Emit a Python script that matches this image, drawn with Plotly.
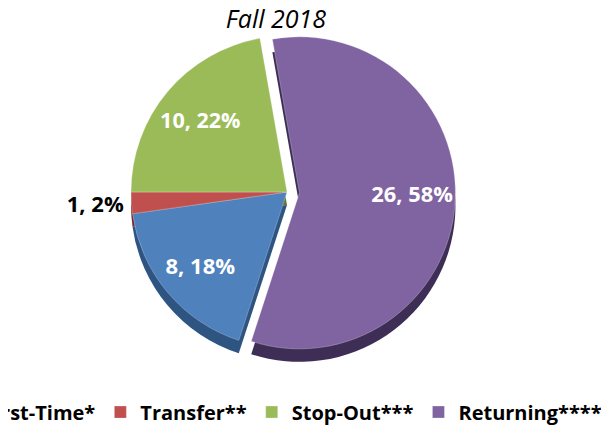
import plotly.graph_objects as go

labels = ["First-Time*", "Transfer**", "Stop-Out***", "Returning****"]
values = [8, 1, 10, 26]
colors = ["#4F81BD", "#C0504D", "#9BBB59", "#8064A2"]
shadow_colors = ["#2E5482", "#7E2A28", "#5F7A30", "#3E2E55"]
pulls = [0, 0, 0, 0.08]
text_positions = ["inside", "outside", "inside", "inside"]
title_text = "Fall 2018"

W, H = 680, 430
MB = 40
PH = H - MB
cx, cy, r = 279, 184, 156
half = r * (1 + max(pulls))
depth = 13

def dom(dy=0):
    return dict(
        x=[(cx - half) / W, (cx + half) / W],
        y=[1 - (cy + dy + half) / PH, 1 - (cy + dy - half) / PH],
    )

fig = go.Figure()
# darker copy below, for the depth of the 3-D pie
fig.add_trace(go.Pie(
    labels=labels, values=values, sort=False, direction="clockwise",
    rotation=198, pull=pulls, domain=dom(depth),
    marker=dict(colors=shadow_colors, line=dict(width=0)),
    textinfo="none", showlegend=False, hoverinfo="skip",
))
fig.add_trace(go.Pie(
    labels=labels, values=values, sort=False, direction="clockwise",
    rotation=198, pull=pulls, domain=dom(0),
    marker=dict(colors=colors, line=dict(color="rgba(255,255,255,0.5)", width=0.5)),
    textinfo="none",
    showlegend=True,
))
# labels placed in the outer ring of the pie
fig.add_trace(go.Pie(
    labels=labels, values=values, sort=False, direction="clockwise",
    rotation=198, pull=pulls, domain=dom(0), hole=0.45,
    marker=dict(colors=["rgba(0,0,0,0)"] * 4, line=dict(width=0)),
    texttemplate="%{value}, %{percent:.0%}",
    textposition=text_positions,
    insidetextorientation="horizontal",
    outsidetextfont=dict(family="Open Sans", size=22, color="black", weight="bold"),
    insidetextfont=dict(family="Open Sans", size=22, color="white", weight="bold"),
    showlegend=False, hoverinfo="skip",
))

fig.update_layout(
    width=W, height=H,
    margin=dict(l=0, r=0, t=0, b=MB, autoexpand=False),
    paper_bgcolor="white",
    title=dict(text="<i>" + title_text + "</i>", x=268 / W, xanchor="center",
               y=1 - 11 / H, yanchor="middle",
               font=dict(family="Open Sans", size=25, color="black")),
    legend=dict(orientation="h", x=-64 / W, xanchor="left", y=-0.036, yanchor="middle",
                font=dict(family="Open Sans", size=20, color="black", weight="bold"),
                traceorder="normal"),
)

fig.write_html("out.html")
